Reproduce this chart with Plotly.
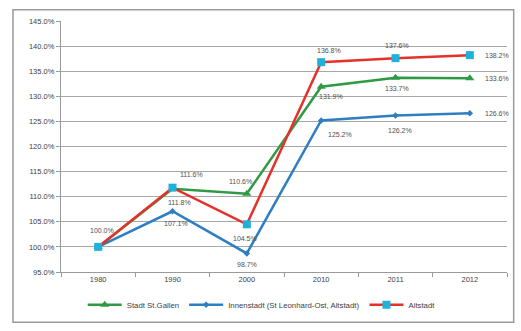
import plotly.graph_objects as go

# Index values (1980 = 100 %)
years = ["1980", "1990", "2000", "2010", "2011", "2012"]
stadt = [100.0, 111.6, 110.6, 131.9, 133.7, 133.6]
innenstadt = [100.0, 107.1, 98.7, 125.2, 126.2, 126.6]
altstadt = [100.0, 111.8, 104.5, 136.8, 137.6, 138.2]

names = ["Stadt St.Gallen", "Innenstadt (St Leonhard-Ost, Altstadt)", "Altstadt"]

# per-point label offsets in pixels (dx, dy; dy positive = up)
off_stadt = [None, (19, 14), (-6, 12), (10, -10), (1, -11), (27, 0)]
off_inner = [None, (3, -12), (0, -11), (19, -14), (4, -15), (27, 0)]
off_alt = [(4, 16), (7, -15), (-2, -14), (8, 12), (1, 13), (27, 0)]

GREEN = "#2f9a44"
BLUE = "#2f7ec2"
RED = "#e4322b"
CYAN = "#1eb1d9"
FONT = "Liberation Sans"

fig = go.Figure()
fig.add_trace(go.Scatter(
    x=years, y=stadt, name=names[0], mode="lines+markers",
    line=dict(color=GREEN, width=2.5),
    marker=dict(symbol="triangle-up", size=8, color=GREEN),
))
fig.add_trace(go.Scatter(
    x=years, y=innenstadt, name=names[1], mode="lines+markers",
    line=dict(color=BLUE, width=2.5),
    marker=dict(symbol="diamond", size=5, color=BLUE),
))
fig.add_trace(go.Scatter(
    x=years, y=altstadt, name=names[2], mode="lines+markers",
    line=dict(color=RED, width=2.5),
    marker=dict(symbol="square", size=8, color=CYAN),
))

# value labels; x given as category index so numeric-looking names are not read as positions
annotations = []
for vals, offs in ((stadt, off_stadt), (innenstadt, off_inner), (altstadt, off_alt)):
    for i, (v, o) in enumerate(zip(vals, offs)):
        if o is None:
            continue
        annotations.append(dict(
            x=i, y=v, xref="x", yref="y", text=f"{v:.1f}%",
            showarrow=False, xshift=o[0], yshift=o[1],
            font=dict(family=FONT, size=7, color="#505050"),
        ))

fig.update_layout(
    width=521, height=331,
    margin=dict(l=61, r=14, t=21, b=47),
    paper_bgcolor="white", plot_bgcolor="white",
    showlegend=True,
    legend=dict(
        orientation="h", x=0.45, xanchor="center", y=-0.13, yanchor="middle",
        font=dict(family=FONT, size=7.8, color="#404040"),
        itemwidth=34, tracegroupgap=0,
    ),
    annotations=annotations,
    shapes=[dict(
        type="rect", xref="paper", yref="paper",
        x0=-0.1076, x1=1.015, y0=-0.2, y1=1.045,
        line=dict(color="#9a9a9a", width=1.5), layer="below",
    )],
)
fig.update_xaxes(
    type="category", categoryorder="array", categoryarray=years,
    range=[-0.5, len(years) - 0.5], tickangle=0,
    showgrid=False, showline=True, linecolor="#9a9a9a", linewidth=1.3,
    ticks="outside", tickson="boundaries", ticklen=4, tickcolor="#9a9a9a",
    tickfont=dict(family=FONT, size=7.5, color="#404040"),
)
fig.update_yaxes(
    range=[95, 145], dtick=5, tickformat=".1f", ticksuffix="%",
    showgrid=True, gridcolor="#a8a8a8", gridwidth=1.3,
    showline=True, linecolor="#9a9a9a", linewidth=1.3,
    ticks="outside", ticklen=4, tickcolor="#9a9a9a",
    tickfont=dict(family=FONT, size=7.5, color="#404040"),
    zeroline=False,
)

fig.write_html("out.html")
